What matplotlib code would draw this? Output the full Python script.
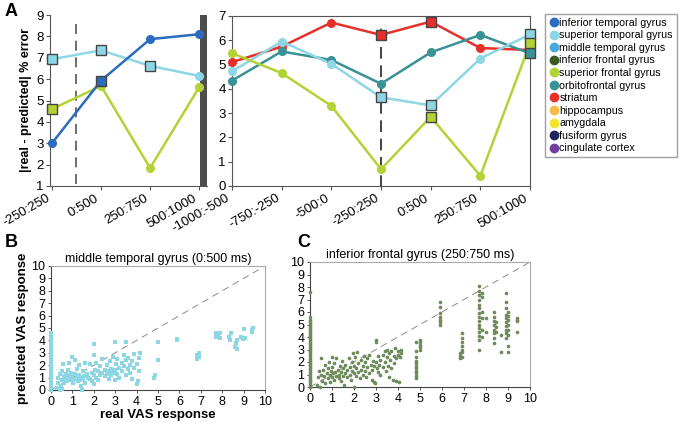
import matplotlib.pyplot as plt
from matplotlib.lines import Line2D

plt.rcParams['font.family'] = ['Liberation Sans', 'DejaVu Sans']

# Panel A data
win_left = ['-250:250', '0:500', '250:750', '500:1000']
win_right = ['-1000:-500', '-750:-250', '-500:0', '-250:250', '0:500', '250:750', '500:1000']

itg_left = [3.0, 5.93, 7.87, 8.1]
stg_left = [6.93, 7.35, 6.62, 6.15]
sfg_left = [4.6, 5.68, 1.84, 5.62]
itg_left_sig = [0, 1, 0, 0]
stg_left_sig = [1, 1, 1, 0]
sfg_left_sig = [1, 0, 0, 0]

stri_right = [5.1, 5.74, 6.73, 6.22, 6.77, 5.68, 5.6]
ofg_right = [4.34, 5.54, 5.19, 4.21, 5.5, 6.22, 5.46]
stg_right = [4.72, 5.95, 5.03, 3.65, 3.32, 5.25, 6.24]
sfg_right = [5.47, 4.65, 3.3, 0.69, 2.85, 0.42, 5.87]
stri_right_sig = [0, 0, 0, 1, 1, 0, 2]
ofg_right_sig = [0, 0, 0, 0, 0, 0, 1]
stg_right_sig = [0, 0, 0, 1, 1, 0, 1]
sfg_right_sig = [0, 0, 0, 0, 1, 0, 1]

regions = ['inferior temporal gyrus', 'superior temporal gyrus', 'middle temporal gyrus',
           'inferior frontal gyrus', 'superior frontal gyrus', 'orbitofrontal gyrus',
           'striatum', 'hippocampus', 'amygdala', 'fusiform gyrus', 'cingulate cortex']
region_colors = ['#2b6cbf', '#8dd6e4', '#4aa7df', '#3b5a27', '#b3d235', '#3a9196',
                 '#e8302a', '#f6bb45', '#f1e52a', '#1d245c', '#6f3fa0']

# Panel B data: middle temporal gyrus (0:500 ms), columns of (real, [predicted])
mtg_cols = [
    (0.0, [0.0, 0.1, 0.25, 0.4, 0.55, 0.7, 0.85, 1.0, 1.15, 1.3, 1.45, 1.6, 1.75, 1.9, 2.05,
           2.2, 2.35, 2.5, 2.65, 2.8, 2.95, 3.1, 3.3, 3.5, 3.7, 3.9, 4.2, 4.4, 4.6]),
    (0.3, [0.15]), (0.35, [0.6, 1.0]), (0.4, [1.3, 0.0]), (0.45, [0.3]), (0.5, [1.5, 0.8, 0.1]),
    (0.55, [2.1]), (0.6, [1.1, 0.6]), (0.7, [0.9, 1.3]), (0.75, [0.7]), (0.8, [1.0, 1.6]),
    (0.85, [2.2]), (0.9, [0.8, 1.2]), (0.95, [1.4]), (1.0, [0.9, 2.7, 1.1]), (1.05, [0.6]),
    (1.1, [1.3, 2.4]), (1.15, [0.9]), (1.2, [1.0, 1.7]), (1.25, [0.7]), (1.3, [1.2, 2.0]),
    (1.35, [0.8]), (1.4, [1.0, 0.3]), (1.45, [0.0]), (1.5, [1.5, 0.9]), (1.55, [1.1]),
    (1.6, [2.2, 0.6]), (1.7, [1.3]), (1.75, [1.0]), (1.8, [2.1, 0.9]), (1.9, [1.4, 0.7]),
    (2.0, [1.2, 2.8, 3.7, 0.5]), (2.05, [1.6]), (2.1, [2.2, 1.0]), (2.2, [1.5, 0.8]),
    (2.3, [1.9, 1.2]), (2.4, [1.4, 2.5]), (2.5, [1.1, 1.6]), (2.6, [1.3, 2.0]), (2.7, [1.5, 0.9]),
    (2.75, [2.3]), (2.8, [1.2, 1.7]), (2.9, [1.4, 2.7]), (3.0, [1.6, 3.9, 0.8]), (3.05, [2.1]),
    (3.1, [1.3, 2.5]), (3.2, [1.8, 1.0]), (3.3, [2.2, 1.5]), (3.4, [1.9, 2.8]),
    (3.5, [3.9, 1.2, 2.4]), (3.6, [1.7, 2.6]), (3.7, [2.0, 1.4]), (3.8, [2.3, 0.9]),
    (3.9, [2.9, 1.8]), (4.0, [2.1, 0.5]), (4.05, [0.7]), (4.1, [2.6, 1.5]), (4.15, [3.0]),
    (4.8, [1.0]), (4.85, [1.2]), (5.0, [3.9, 2.4]), (5.9, [4.0, 4.1]), (6.8, [2.5, 2.8]),
    (6.9, [3.0, 2.7]), (7.7, [4.6, 4.3]), (7.8, [4.5]), (7.9, [4.2, 4.6]), (8.3, [4.3]),
    (8.35, [4.0]), (8.4, [4.6]), (8.6, [3.5]), (8.65, [3.8]), (8.7, [3.3, 4.0]), (8.9, [4.3]),
    (8.95, [4.1]), (9.0, [4.9]), (9.05, [4.2]), (9.4, [4.7, 4.8]), (9.45, [5.0]),
]

# Panel C data: inferior frontal gyrus (250:750 ms)
ifg_cols = [
    (0.0, [0.0, 0.15, 0.3, 0.45, 0.6, 0.75, 0.9, 1.05, 1.2, 1.35, 1.5, 1.65, 1.8, 1.95, 2.1,
           2.25, 2.4, 2.55, 2.7, 2.85, 3.0, 3.15, 3.3, 3.45, 3.6, 3.75, 3.9, 4.05, 4.2, 4.35,
           4.5, 4.65, 4.8, 4.95, 5.1, 5.25, 5.4, 5.6, 7.6]),
    (0.3, [0.2]), (0.35, [0.8]), (0.4, [1.3]), (0.45, [0.0]), (0.5, [2.3, 1.0]), (0.55, [0.5]),
    (0.6, [1.4]), (0.65, [0.9]), (0.7, [1.8, 0.3]), (0.75, [1.1]), (0.8, [0.7, 1.5]),
    (0.85, [2.0]), (0.9, [1.0, 0.4]), (0.95, [1.3]), (1.0, [0.8, 1.6, 2.4]), (1.05, [1.1]),
    (1.1, [0.6, 1.9]), (1.15, [1.2]), (1.2, [0.9, 2.3]), (1.25, [1.4]), (1.3, [0.7, 1.0]),
    (1.35, [1.7]), (1.4, [0.5, 1.2]), (1.45, [2.1]), (1.5, [0.9, 1.5]), (1.55, [0.2]),
    (1.6, [1.1, 1.8]), (1.7, [0.8, 1.4]), (1.75, [2.3]), (1.8, [1.0, 1.6]), (1.85, [0.6]),
    (1.9, [1.3, 2.0]), (1.95, [2.7]), (2.0, [1.1, 1.7, 0.0]), (2.05, [2.4]), (2.1, [0.9, 1.5]),
    (2.15, [2.8]), (2.2, [1.2, 1.9]), (2.25, [0.7]), (2.3, [1.4, 2.2]), (2.4, [1.0, 1.7]),
    (2.45, [2.5]), (2.5, [1.3, 2.0]), (2.55, [0.8]), (2.6, [1.6, 2.3]), (2.7, [1.1, 2.6]),
    (2.75, [1.8]), (2.8, [1.4, 0.6]), (2.85, [2.1]), (2.9, [1.7, 0.4]), (2.95, [0.3]),
    (3.0, [3.6, 3.8, 2.0]), (3.05, [1.5]), (3.1, [2.5, 1.2]), (3.15, [1.8]), (3.2, [2.2, 1.0]),
    (3.3, [2.6, 1.6]), (3.4, [2.0, 2.9]), (3.45, [1.3]), (3.5, [2.4, 3.0]), (3.55, [1.7]),
    (3.6, [2.7, 0.8]), (3.65, [2.2]), (3.7, [1.5, 2.9]), (3.75, [0.6]), (3.8, [2.5, 1.9]),
    (3.85, [3.1]), (3.9, [2.3, 0.5]), (4.0, [2.6, 2.9]), (4.05, [0.4]), (4.1, [2.4]),
    (4.15, [3.0, 2.7]),
    (4.8, [0.7, 0.9, 1.1, 1.3, 1.5, 1.7, 1.9, 2.1, 2.4, 2.9, 3.6]),
    (5.0, [3.0, 3.2, 3.4, 3.6, 3.8]),
    (5.9, [5.0, 5.2, 5.4, 5.6, 5.9, 6.4, 6.8]),
    (6.8, [2.3, 2.5, 2.7]),
    (6.9, [2.4, 2.8, 3.0, 3.3, 3.6, 3.9, 4.3]),
    (7.7, [3.0, 3.8, 4.1, 4.4, 4.7, 5.0, 5.3, 5.6, 5.9, 6.3, 6.6, 7.0, 7.4, 7.7, 8.1]),
    (7.8, [4.0, 4.6, 5.5, 6.0, 7.2, 7.5]),
    (8.0, [5.5, 4.4]),
    (8.35, [3.5, 3.9, 4.3, 4.6, 5.0, 5.3, 5.6, 6.0]),
    (8.45, [4.4, 4.8, 5.2]),
    (8.7, [2.8, 4.2]),
    (8.9, [3.9, 4.3, 4.6, 4.9, 5.2, 5.5, 5.8, 6.3, 6.8, 7.5]),
    (9.0, [4.2, 4.6, 5.0, 5.4, 5.7, 6.0, 3.3, 2.8]),
    (9.4, [5.3, 5.5, 5.4, 4.4]),
]

mtg_real = [x for x, ys in mtg_cols for _ in ys]
mtg_pred = [y for _, ys in mtg_cols for y in ys]
ifg_real = [x for x, ys in ifg_cols for _ in ys]
ifg_pred = [y for _, ys in ifg_cols for y in ys]

W, H = 680, 422
fig = plt.figure(figsize=(W / 100, H / 100), dpi=100)


def box(x0, y0, x1, y1):
    return [x0 / W, 1 - y1 / H, (x1 - x0) / W, (y1 - y0) / H]


def draw_series(ax, vals, sig, color):
    xs = list(range(len(vals)))
    ax.plot(xs, vals, color=color, lw=1.8, zorder=3, clip_on=False)
    for x, v, s in zip(xs, vals, sig):
        if s == 1:
            ax.plot(x, v, marker='s', ms=7.5, mfc=color, mec='#444444', mew=1.0,
                    zorder=6, clip_on=False)
        elif s == 0:
            ax.plot(x, v, marker='o', ms=5.5, mfc=color, mec=color, zorder=4, clip_on=False)


gray = '#555555'
tick_kw = dict(labelsize=9.5, length=3, width=0.8, color=gray, pad=1.5)

# ---- Panel A left
axl = fig.add_axes(box(50, 15, 207, 186))
draw_series(axl, stg_left, stg_left_sig, region_colors[1])
draw_series(axl, sfg_left, sfg_left_sig, region_colors[4])
draw_series(axl, itg_left, itg_left_sig, region_colors[0])
axl.set_xlim(-0.04, 3.16)
axl.set_ylim(1, 9)
axl.axvspan(3.02, 3.16, color='#4d4d4d', zorder=1, lw=0)
axl.plot([0.5, 0.5], [1.1, 8.8], color='#555555', lw=1.2, dashes=(6, 4), zorder=2)
for s in ['top', 'right']:
    axl.spines[s].set_visible(False)
for s in ['left', 'bottom']:
    axl.spines[s].set_color(gray)
axl.set_yticks(range(1, 10))
axl.set_xticks(range(4))
axl.set_xticklabels(win_left, rotation=30, ha='right', fontsize=8.5)
axl.tick_params(**tick_kw)
axl.set_ylabel('|real - predicted| % error', fontsize=9, fontweight='bold', labelpad=3)

# ---- Panel A right
axr = fig.add_axes(box(232, 16, 530, 186))
draw_series(axr, stri_right, stri_right_sig, region_colors[6])
draw_series(axr, ofg_right, ofg_right_sig, region_colors[5])
draw_series(axr, stg_right, stg_right_sig, region_colors[1])
draw_series(axr, sfg_right, sfg_right_sig, region_colors[4])
axr.set_xlim(0, 6)
axr.set_ylim(0, 7)
axr.plot([3, 3], [-0.05, 6.7], color='#222222', lw=1.2, dashes=(7, 4), zorder=2, clip_on=False)
for s in axr.spines.values():
    s.set_color(gray)
axr.set_yticks(range(8))
axr.set_xticks(range(7))
axr.set_xticklabels(win_right, rotation=30, ha='right', fontsize=8.5)
axr.tick_params(**tick_kw)

# legend
handles = [Line2D([], [], ls='', marker='o', ms=6, mfc=c, mec=c) for c in region_colors]
fig.legend(handles, regions, loc='upper left', bbox_to_anchor=(545 / W, 1 - 14 / H),
           fontsize=7.7, frameon=True, fancybox=False, edgecolor='#888888',
           handletextpad=0.1, handlelength=0.9, labelspacing=0.24, borderpad=0.35,
           borderaxespad=0)


def scatter_panel(ax, xs, ys, color, marker, size, title):
    ax.scatter(xs, ys, s=size, c=color, marker=marker, lw=0, zorder=3, clip_on=False)
    ax.plot([0, 10], [0, 10], color='#8a8a8a', lw=0.7, dashes=(7, 5), zorder=2)
    ax.set_xlim(0, 10)
    ax.set_ylim(0, 10)
    ax.set_xticks(range(11))
    ax.set_yticks(range(11))
    ax.tick_params(labelsize=9, length=2.5, width=0.7, color=gray, pad=1.5)
    ax.spines['left'].set_color('#444444')
    ax.spines['bottom'].set_color('#444444')
    ax.spines['top'].set_color('#aaaaaa')
    ax.spines['right'].set_color('#aaaaaa')
    ax.set_title(title, fontsize=9, pad=3)


# ---- Panel B
axb = fig.add_axes(box(51, 266, 265, 390))
scatter_panel(axb, mtg_real, mtg_pred, '#8dd6e4', 's', 8, 'middle temporal gyrus (0:500 ms)')
axb.set_xlabel('real VAS response', fontsize=9.5, fontweight='bold', labelpad=1)
axb.set_ylabel('predicted VAS response', fontsize=9.5, fontweight='bold', labelpad=2)

# ---- Panel C
axc = fig.add_axes(box(310, 262, 530, 387))
scatter_panel(axc, ifg_real, ifg_pred, '#6f8b5c', 'o', 7, 'inferior frontal gyrus (250:750 ms)')

fig.text(5 / W, 1 - 3 / H, 'A', fontsize=13, fontweight='bold', va='top')
fig.text(5 / W, 1 - 234 / H, 'B', fontsize=13, fontweight='bold', va='top')
fig.text(297 / W, 1 - 234 / H, 'C', fontsize=13, fontweight='bold', va='top')

fig.savefig('out.png', dpi=100)
